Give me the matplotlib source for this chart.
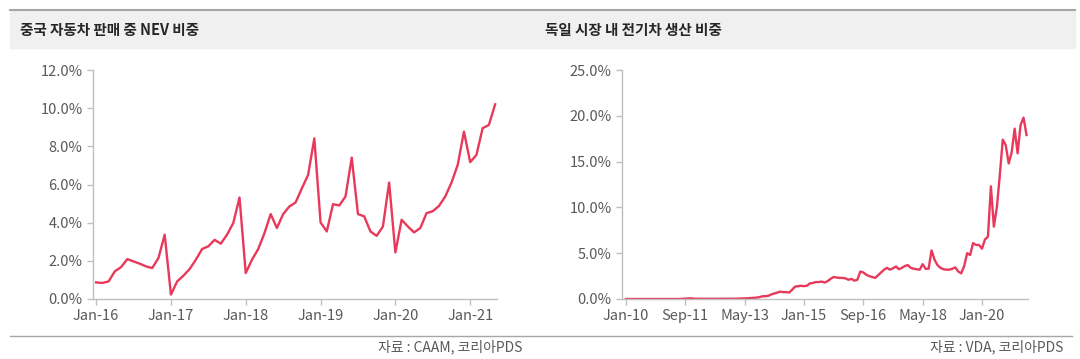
import matplotlib.pyplot as plt
from matplotlib.patches import Rectangle
from matplotlib.lines import Line2D

plt.rcParams['font.family'] = ['Noto Sans CJK KR', 'DejaVu Sans']

# China: NEV share of car sales, monthly Jan-16 .. May-21 (%)
china_share = [
    0.87, 0.84, 0.92, 1.45, 1.67, 2.09, 1.97, 1.85, 1.71, 1.62, 2.15, 3.37,
    0.23, 0.92, 1.22, 1.57, 2.06, 2.62, 2.76, 3.10, 2.90, 3.37, 3.98, 5.32,
    1.36, 2.06, 2.62, 3.45, 4.45, 3.72, 4.45, 4.85, 5.06, 5.80, 6.50, 8.42,
    4.01, 3.54, 4.97, 4.90, 5.37, 7.41, 4.45, 4.33, 3.54, 3.31, 3.80, 6.10,
    2.44, 4.15, 3.80, 3.49, 3.72, 4.50, 4.60, 4.88, 5.37, 6.10, 7.03, 8.77,
    7.17, 7.55, 8.95, 9.12, 10.20,
]
china_ticks = ['Jan-16', 'Jan-17', 'Jan-18', 'Jan-19', 'Jan-20', 'Jan-21']

# Germany: EV share of production, monthly Jan-10 .. Apr-21 (%)
germany_share = [
    0.00, 0.00, 0.00, 0.00, 0.00, 0.00, 0.00, 0.00, 0.00, 0.00, 0.00, 0.00,
    0.00, 0.00, 0.00, 0.00, 0.00, 0.00, 0.00, 0.02, 0.03, 0.05, 0.08, 0.03,
    0.02, 0.02, 0.02, 0.02, 0.03, 0.03, 0.03, 0.03, 0.03, 0.03, 0.03, 0.03,
    0.03, 0.03, 0.04, 0.04, 0.05, 0.08, 0.10, 0.12, 0.15, 0.20, 0.30, 0.30,
    0.35, 0.50, 0.60, 0.70, 0.80, 0.75, 0.75, 0.70, 1.00, 1.35, 1.40, 1.45,
    1.40, 1.45, 1.70, 1.75, 1.85, 1.85, 1.90, 1.80, 1.95, 2.20, 2.40, 2.35,
    2.30, 2.30, 2.25, 2.10, 2.20, 2.00, 2.10, 3.00, 2.90, 2.65, 2.50, 2.40,
    2.30, 2.60, 2.90, 3.20, 3.40, 3.20, 3.35, 3.55, 3.25, 3.40, 3.60, 3.70,
    3.40, 3.30, 3.25, 3.20, 3.80, 3.30, 3.30, 5.30, 4.30, 3.70, 3.40, 3.25,
    3.20, 3.20, 3.30, 3.45, 3.00, 2.80, 3.60, 5.00, 4.80, 6.10, 5.90, 5.90,
    5.50, 6.50, 6.80, 12.30, 7.90, 10.00, 13.50, 17.40, 16.80, 14.80, 16.00, 18.60,
    15.90, 19.00, 19.80, 17.90,
]
germany_ticks = ['Jan-10', 'Sep-11', 'May-13', 'Jan-15', 'Sep-16', 'May-18', 'Jan-20']

titles = ['중국 자동차 판매 중 NEV 비중', '독일 시장 내 전기차 생산 비중']
sources = ['자료 : CAAM, 코리아PDS', '자료 : VDA, 코리아PDS']

line_color = '#e8395a'
axis_color = '#bfbfbf'
text_color = '#595959'

fig = plt.figure(figsize=(10.8, 3.59), dpi=100)
W, H = 1080, 359

# header band and rules
fig.patches.append(Rectangle((10 / W, 1 - 48 / H), 1065 / W, 37 / H,
                             transform=fig.transFigure, color='#f0f0f0', zorder=0))
fig.lines.append(Line2D([10 / W, 1075 / W], [1 - 10 / H, 1 - 10 / H],
                        transform=fig.transFigure, color='#a6a6a6', lw=1.5))
fig.lines.append(Line2D([10 / W, 1072 / W], [1 - 336 / H, 1 - 336 / H],
                        transform=fig.transFigure, color='#a6a6a6', lw=1.0))

fig.text(20 / W, 1 - 30 / H, titles[0], fontsize=10.5, fontweight='bold',
         color='#262626', va='center')
fig.text(545 / W, 1 - 30 / H, titles[1], fontsize=10.5, fontweight='bold',
         color='#262626', va='center')
fig.text(522 / W, 1 - 347 / H, sources[0], fontsize=10, color=text_color,
         ha='right', va='center')
fig.text(1063 / W, 1 - 347 / H, sources[1], fontsize=10, color=text_color,
         ha='right', va='center')


def style(ax):
    for s in ['top', 'right']:
        ax.spines[s].set_visible(False)
    for s in ['left', 'bottom']:
        ax.spines[s].set_color(axis_color)
        ax.spines[s].set_linewidth(1.0)
    ax.tick_params(colors=axis_color, labelcolor=text_color, labelsize=10.5,
                   length=4, width=1.0)
    ax.tick_params(axis='x', pad=3)
    ax.set_facecolor('none')


# left chart
ax1 = fig.add_axes([93 / W, 60 / H, 404 / W, 229 / H])
ax1.plot(range(len(china_share)), china_share, color=line_color, lw=1.7)
ax1.set_xlim(-0.5, 64.3)
ax1.set_ylim(0, 12)
ax1.set_yticks([0, 2, 4, 6, 8, 10, 12])
ax1.set_yticklabels([f'{v:.1f}%' for v in [0, 2, 4, 6, 8, 10, 12]])
ax1.set_xticks([0, 12, 24, 36, 48, 60])
ax1.set_xticklabels(china_ticks)
style(ax1)

# right chart
ax2 = fig.add_axes([622 / W, 60 / H, 406 / W, 229 / H])
ax2.plot(range(len(germany_share)), germany_share, color=line_color, lw=1.7)
ax2.set_xlim(-1.3, 135.5)
ax2.set_ylim(0, 25)
ax2.set_yticks([0, 5, 10, 15, 20, 25])
ax2.set_yticklabels([f'{v:.1f}%' for v in [0, 5, 10, 15, 20, 25]])
ax2.set_xticks([0, 20, 40, 60, 80, 100, 120])
ax2.set_xticklabels(germany_ticks)
style(ax2)

fig.savefig('out.png', dpi=100)
